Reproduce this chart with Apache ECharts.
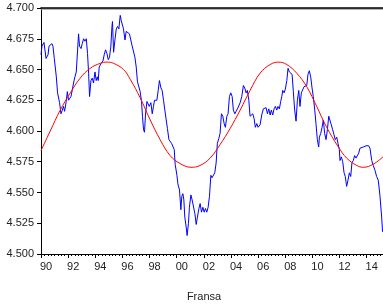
<!DOCTYPE html>
<html>
<head>
<meta charset="utf-8">
<script src="https://cdn.jsdelivr.net/npm/echarts@6/dist/echarts.min.js"></script>
<style>
html,body{margin:0;padding:0;background:#fff;overflow:hidden;}
#chart{width:383px;height:305px;}
</style>
</head>
<body>
<div id="chart"></div>
<script>
// ---- data ----
const yTicks = [4.500, 4.525, 4.550, 4.575, 4.600, 4.625, 4.650, 4.675, 4.700];
const xLabelYears = [1990, 1992, 1994, 1996, 1998, 2000, 2002, 2004, 2006, 2008, 2010, 2012, 2014];
const axisTitle = 'Fransa';

// blue series: observation dates (decimal years) and values
const blueYears = [
1990.00,1990.07,1990.22,1990.27,1990.37,1990.44,1990.52,1990.59,1990.68,1990.81,1990.88,1990.98,
1991.05,1991.13,1991.22,1991.37,1991.47,1991.57,1991.66,1991.74,1991.86,1991.94,
1992.03,1992.11,1992.21,1992.30,1992.40,1992.50,1992.60,1992.77,1992.84,1992.95,
1993.04,1993.14,1993.24,1993.34,1993.43,1993.51,1993.58,1993.68,1993.78,1993.87,1993.98,
1994.07,1994.15,1994.22,1994.29,1994.37,1994.44,1994.57,1994.66,1994.76,1994.86,1994.96,
1995.05,1995.15,1995.23,1995.27,1995.35,1995.45,1995.55,1995.64,1995.74,1995.84,1995.91,
1996.01,1996.08,1996.19,1996.28,1996.38,1996.52,1996.58,1996.70,1996.82,1996.92,
1997.02,1997.11,1997.22,1997.31,1997.41,1997.48,1997.56,1997.63,1997.70,1997.81,1997.90,1997.98,
1998.10,1998.20,1998.29,1998.37,1998.47,1998.54,1998.64,1998.73,1998.84,1998.93,
1999.03,1999.13,1999.23,1999.32,1999.43,1999.52,1999.62,1999.72,1999.82,1999.89,
2000.02,2000.09,2000.21,2000.31,2000.38,2000.46,2000.53,2000.60,2000.70,2000.77,2000.87,2000.94,
2001.05,2001.14,2001.24,2001.34,2001.44,2001.53,2001.64,2001.73,2001.83,2001.93,
2002.03,2002.12,2002.22,2002.32,2002.42,2002.52,2002.61,2002.71,2002.81,2002.91,
2003.00,2003.11,2003.20,2003.30,2003.40,2003.50,2003.59,2003.70,2003.79,2003.89,2003.99,
2004.09,2004.18,2004.29,2004.38,2004.48,2004.58,2004.68,2004.80,2004.92,
2005.02,2005.12,2005.21,2005.32,2005.41,2005.51,2005.61,2005.71,2005.80,2005.91,
2006.00,2006.15,2006.27,2006.39,2006.50,2006.59,2006.69,2006.79,2006.89,2006.98,
2007.08,2007.18,2007.28,2007.38,2007.47,2007.57,2007.67,2007.75,2007.82,2007.92,
2008.01,2008.12,2008.21,2008.31,2008.41,2008.51,2008.60,2008.70,2008.80,2008.90,
2009.00,2009.09,2009.19,2009.29,2009.39,2009.49,2009.59,2009.68,2009.78,2009.88,2009.98,
2010.07,2010.18,2010.27,2010.37,2010.47,2010.52,2010.62,2010.72,2010.81,2010.91,
2011.01,2011.11,2011.21,2011.30,2011.40,2011.50,2011.60,2011.69,2011.80,2011.89,2011.99,
2012.04,2012.14,2012.24,2012.34,2012.43,2012.53,2012.63,2012.73,2012.83,2012.92,
2013.02,2013.12,2013.22,2013.31,2013.42,2013.51,2013.61,2013.76,2013.96,
2014.05,2014.15,2014.25,2014.38,2014.49,2014.62,2014.74,2014.86,2014.99,
2015.11,2015.18
];
const blueValues = [
4.662,4.669,4.672,4.673,4.659,4.658,4.662,4.669,4.670,4.671,4.669,4.659,
4.658,4.644,4.631,4.623,4.614,4.617,4.620,4.616,4.624,4.632,
4.625,4.624,4.628,4.633,4.639,4.644,4.648,4.679,4.669,4.667,
4.671,4.675,4.673,4.675,4.663,4.647,4.628,4.641,4.643,4.639,4.648,
4.641,4.644,4.641,4.652,4.653,4.655,4.657,4.662,4.666,4.663,4.658,
4.660,4.669,4.685,4.689,4.664,4.674,4.683,4.685,4.683,4.694,4.690,
4.689,4.683,4.674,4.681,4.681,4.679,4.678,4.670,4.669,4.660,
4.652,4.640,4.639,4.632,4.624,4.612,4.601,4.599,4.613,4.624,4.625,4.620,
4.623,4.614,4.620,4.625,4.624,4.625,4.633,4.641,4.635,4.633,
4.625,4.617,4.609,4.602,4.593,4.594,4.590,4.591,4.585,4.573,
4.564,4.557,4.552,4.536,4.547,4.549,4.544,4.530,4.522,4.515,4.525,4.538,
4.548,4.544,4.543,4.533,4.524,4.530,4.537,4.541,4.534,4.538,
4.534,4.537,4.534,4.538,4.547,4.564,4.562,4.563,4.566,4.574,
4.590,4.594,4.598,4.614,4.612,4.606,4.603,4.612,4.614,4.628,4.631,
4.628,4.617,4.614,4.616,4.618,4.617,4.623,4.628,4.637,
4.635,4.631,4.633,4.625,4.612,4.613,4.614,4.610,4.603,4.606,
4.603,4.605,4.613,4.618,4.617,4.619,4.614,4.618,4.613,4.617,
4.613,4.618,4.620,4.617,4.620,4.618,4.624,4.628,4.633,4.631,
4.634,4.641,4.651,4.648,4.647,4.646,4.632,4.617,4.608,4.625,
4.633,4.620,4.631,4.632,4.636,4.635,4.637,4.646,4.649,4.644,4.635,
4.628,4.617,4.606,4.593,4.587,4.595,4.598,4.603,4.609,4.598,
4.593,4.601,4.612,4.613,4.605,4.601,4.597,4.593,4.595,4.590,4.585,
4.576,4.579,4.575,4.566,4.563,4.555,4.560,4.566,4.563,4.574,
4.576,4.580,4.578,4.579,4.582,4.586,4.585,4.587,4.588,
4.589,4.588,4.586,4.576,4.572,4.568,4.563,4.560,4.547,
4.530,4.518
];

// red fitted curve, read at points along the curve
const redYears = [
1990.00,1990.68,1991.42,1992.16,1992.89,1993.63,1994.37,1994.86,1995.35,1996.08,1996.58,
1997.31,1998.05,1998.78,1999.52,2000.26,2001.06,2001.73,2002.47,2003.20,
2003.94,2004.68,2005.41,2006.15,2006.89,2007.50,2008.12,2008.85,2009.59,2010.32,2011.06,
2011.92,2012.53,2013.27,2013.76,2014.49,2015.21
];
const redValues = [
4.584,4.600,4.617,4.631,4.643,4.651,4.655,4.656,4.655,4.650,4.642,
4.627,4.609,4.593,4.580,4.5735,4.5705,4.572,4.578,4.589,
4.602,4.617,4.633,4.647,4.654,4.656,4.654,4.647,4.636,4.620,4.603,
4.587,4.578,4.572,4.5705,4.573,4.579
];

// ---- axis configuration ----
const xMin = 1990.0, xMax = 2015.21;
const labelShift = 0.375;   // labels sit a little to the right of the year tick
const labelValues = xLabelYears.map(y => y + labelShift);
const yearTicks = xLabelYears.slice();
const quarterTicks = [];
for (let y = 1990; y <= 2015; y++) for (let q = 0; q < 4; q++) { const v = y + q / 4; if (v <= xMax) quarterTicks.push(v); }

const blueData = blueYears.map((t, i) => [t, blueValues[i]]);
const redData = redYears.map((t, i) => [t, redValues[i]]);

const font = 'Liberation Sans, Arial, sans-serif';
const chart = echarts.init(document.getElementById('chart'), null, {renderer: 'canvas'});
const gridRect = {left: 41, right: 0, top: 8, bottom: 51, containLabel: false};

chart.setOption({
  animation: false,
  backgroundColor: '#fff',
  title: {
    text: axisTitle, left: 199, top: 286, textAlign: 'center',
    textStyle: {fontFamily: font, fontSize: 11, fontWeight: 'normal', color: '#222'}
  },
  grid: [Object.assign({}, gridRect), Object.assign({}, gridRect)],
  xAxis: [
    {
      type: 'value', gridIndex: 0, position: 'bottom', min: xMin, max: xMax,
      splitLine: {show: false},
      axisLine: {show: true, onZero: false, lineStyle: {color: '#000', width: 1}},
      axisTick: {show: true, inside: false, length: 4, customValues: yearTicks, lineStyle: {color: '#000'}},
      axisLabel: {
        customValues: labelValues, margin: 7, fontFamily: font, fontSize: 11, color: '#222',
        formatter: v => String(Math.floor(v) % 100).padStart(2, '0')
      }
    },
    {
      type: 'value', gridIndex: 1, position: 'bottom', min: xMin, max: xMax,
      splitLine: {show: false},
      axisLine: {show: false},
      axisTick: {show: true, inside: false, length: 2, customValues: quarterTicks, lineStyle: {color: '#000'}},
      axisLabel: {show: false}
    },
    {
      type: 'value', gridIndex: 1, position: 'top', min: xMin, max: xMax,
      splitLine: {show: false},
      axisLine: {show: true, onZero: false, lineStyle: {color: '#000', width: 1.6, shadowColor: '#999', shadowOffsetY: 1, shadowBlur: 0}},
      axisTick: {show: false},
      axisLabel: {show: false}
    }
  ],
  yAxis: [
    {
      type: 'value', gridIndex: 0, min: yTicks[0], max: yTicks[yTicks.length - 1], interval: 0.025,
      splitLine: {show: false},
      axisLine: {show: true, onZero: false, lineStyle: {color: '#000', width: 1}},
      axisTick: {show: true, inside: false, length: 4, lineStyle: {color: '#000'}},
      axisLabel: {margin: 7, fontFamily: font, fontSize: 11, color: '#222', formatter: v => v.toFixed(3)}
    },
    {
      type: 'value', gridIndex: 1, min: yTicks[0], max: yTicks[yTicks.length - 1],
      show: false
    }
  ],
  series: [
    {
      type: 'line', xAxisIndex: 0, yAxisIndex: 0, data: blueData,
      showSymbol: false, lineStyle: {color: '#0000ff', width: 1}, z: 2
    },
    {
      type: 'line', xAxisIndex: 0, yAxisIndex: 0, data: redData, smooth: 0.4,
      showSymbol: false, lineStyle: {color: '#ff0000', width: 1}, z: 3
    }
  ]
});
</script>
</body>
</html>
